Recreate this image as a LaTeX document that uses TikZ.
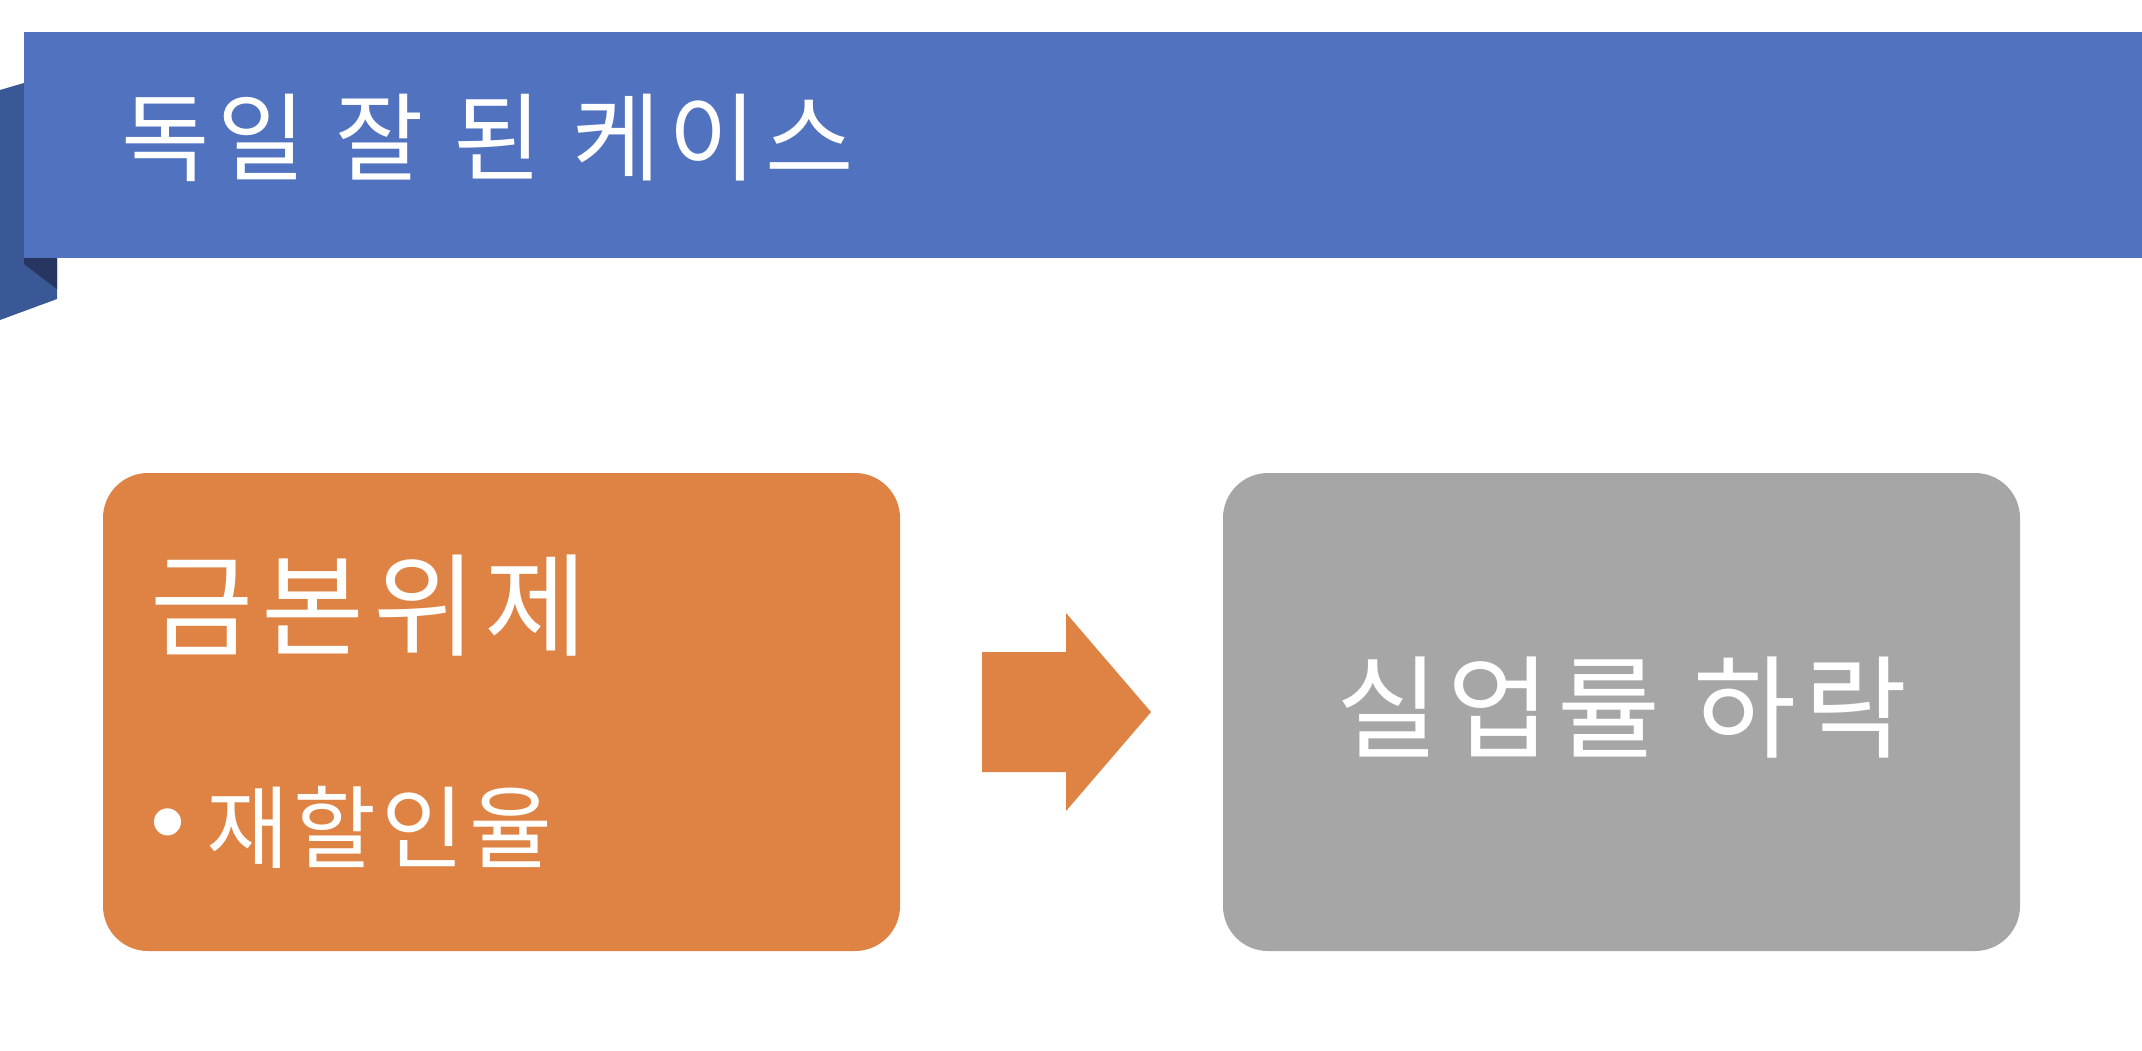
\documentclass[tikz,border=0pt]{standalone}
\usepackage{fontspec}
\setmainfont{Noto Sans CJK KR}
\newfontfamily\bulletfont{Liberation Sans}
\definecolor{banner}{HTML}{5172BE}
\definecolor{bannerside}{HTML}{3A5895}
\definecolor{bannerdark}{HTML}{263660}
\definecolor{orangebox}{HTML}{DF8344}
\definecolor{graybox}{HTML}{A6A6A6}
\tikzset{
  card/.style={rounded corners=45pt, inner sep=0pt},
  whitetext/.style={text=white, inner sep=0pt},
}
\begin{document}
\begin{tikzpicture}[x=1pt,y=-1pt]
\useasboundingbox (0,0) rectangle (2142,1050);
% folded side of banner
\fill[bannerside] (0,90) -- (24,83) -- (24,258) -- (57,258) -- (57,299) -- (0,320) -- cycle;
\fill[bannerdark] (24,258) -- (57,258) -- (57,289) -- (24,264) -- cycle;
% banner
\fill[banner] (24,32) rectangle (2142,258);
\node[whitetext, anchor=west, font=\fontsize{96}{110}\selectfont\addfontfeature{LetterSpace=8.6}] (title) at (121,138) {독일 잘 된 케이스};
% boxes
\fill[orangebox, card] (103,473) rectangle (900,951);
\fill[graybox, card] (1223,473) rectangle (2020,951);
\node[whitetext, anchor=west, font=\fontsize{112}{130}\selectfont\addfontfeature{LetterSpace=7.5}] (gold) at (150,606) {금본위제};
\node[whitetext, font=\bulletfont\fontsize{100}{110}\selectfont] (bullet) at (168,832) {•};
\node[whitetext, anchor=west, font=\fontsize{90}{105}\selectfont\addfontfeature{LetterSpace=5.5}] (rate) at (206,827) {재할인율};
\node[whitetext, font=\fontsize{112}{130}\selectfont\addfontfeature{LetterSpace=7}] (unemp) at (1622,708) {실업률 하락};
% arrow
\fill[orangebox] (982,652) -- (1066,652) -- (1066,613) -- (1151,712) -- (1066,811) -- (1066,772) -- (982,772) -- cycle;
\end{tikzpicture}
\end{document}
